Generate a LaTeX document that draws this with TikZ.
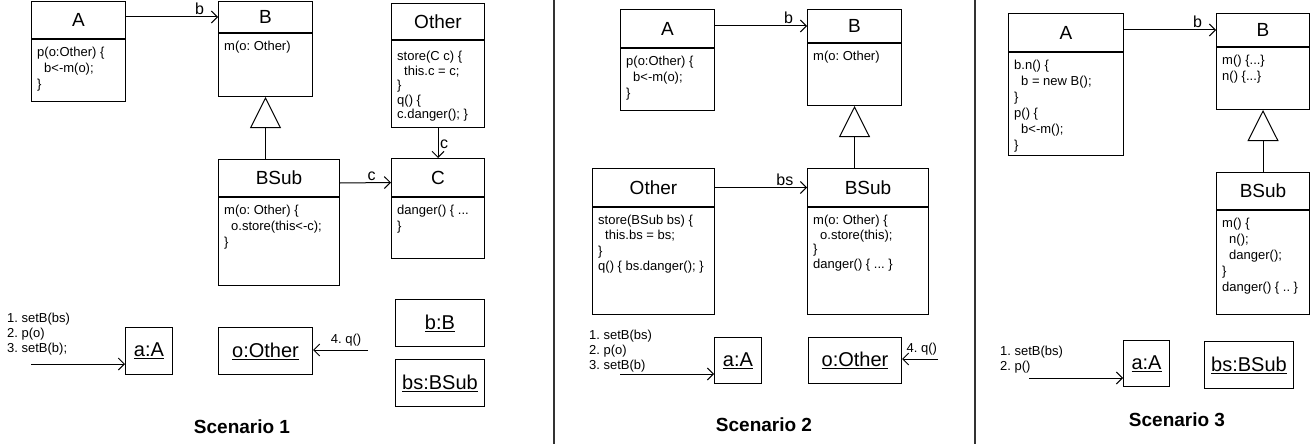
\documentclass[tikz,border=0pt]{standalone}
\usepackage{fontspec}
\setmainfont{Liberation Sans}
\usetikzlibrary{arrows.meta,positioning}
\newcommand\ind{\hspace*{7pt}}
\frenchspacing

\begin{document}
\begin{tikzpicture}[x=1pt,y=-1pt,
  cls/.style={draw, line width=1pt, anchor=north west, inner sep=0pt, font=\fontsize{19}{22}\selectfont},
  mbody/.style={draw, line width=1pt, anchor=north west, inner sep=0pt},
  mcode/.style={anchor=north west, align=left, inner xsep=6pt, inner ysep=8pt, font=\fontsize{13}{16}\selectfont},
  obj/.style={draw, line width=1pt, anchor=north west, inner sep=0pt, font=\fontsize{20}{24}\selectfont},
  assoc/.style={line width=1pt, -{Straight Barb[length=6pt,width=12pt]}},
  gen/.style={line width=1pt, -{Triangle[open,length=31pt,width=31pt]}},
  lbl/.style={font=\fontsize{16}{19}\selectfont, inner sep=1.5pt},
  calls/.style={anchor=north west, align=left, inner sep=0pt, font=\fontsize{13}{15}\selectfont},
  scen/.style={font=\fontsize{19}{22}\selectfont\bfseries}]
  \useasboundingbox (0,0) rectangle (1315,444);
  % --- separators
  \draw[line width=1.2pt, black!80] (554,0) -- (554,444);
  \draw[line width=1.2pt, black!80] (975,0) -- (975,444);

  % --- scenario 1
  \node[cls, minimum width=94, minimum height=37] (a1) at (31,1) {A};
  \node[mbody, minimum width=94, minimum height=62] (a1b) at (a1.south west) {};
  \node[mcode] (a1c) at (a1b.north west) {p(o:Other) \{\\ \ind b<-m(o);\\ \}};
  \node[cls, minimum width=94, minimum height=31] (b1) at (218,1) {B};
  \node[mbody, minimum width=94, minimum height=63] (b1b) at (b1.south west) {};
  \node[mcode] (b1c) at (b1b.north west) {m(o: Other)};
  \node[cls, minimum width=93, minimum height=36] (o1) at (391,3) {Other};
  \node[mbody, minimum width=93, minimum height=87] (o1b) at (o1.south west) {};
  \node[mcode, inner ysep=11pt, font=\fontsize{13}{14.5}\selectfont] (o1c) at (o1b.north west) {store(C c) \{\\ \ind this.c = c;\\ \}\\ q() \{\\ c.danger(); \}};
  \node[cls, minimum width=121, minimum height=37] (bs1) at (218,159) {BSub};
  \node[mbody, minimum width=121, minimum height=88] (bs1b) at (bs1.south west) {};
  \node[mcode] (bs1c) at (bs1b.north west) {m(o: Other) \{\\ \ind o.store(this<-c);\\ \}};
  \node[cls, minimum width=93, minimum height=38] (c1) at (391,158) {C};
  \node[mbody, minimum width=93, minimum height=61] (c1b) at (c1.south west) {};
  \node[mcode] (c1c) at (c1b.north west) {danger() \{ ...\\ \}};
  \draw[assoc] (a1.east |- b1.west) -- node[lbl, above, pos=0.8] (lb1) {b} (b1.west);
  \draw[gen] (bs1.north -| b1b.south) -- (b1b.south);
  \draw[assoc] (o1b.south) -- node[lbl, right, pos=0.55] (lc1) {c} (c1.north);
  \draw[assoc] ([yshift=-5pt]bs1.east) -- node[lbl, above, pos=0.62] (lc2) {c} ([yshift=-5pt]c1.west);
  % objects
  \node[obj, minimum width=47, minimum height=47] (oa1) at (125,327) {\underline{a:A}};
  \node[obj, minimum width=94, minimum height=47] (oo1) at (218,327) {\underline{o:Other}};
  \node[obj, minimum width=89, minimum height=47] (ob1) at (395,299) {\underline{b:B}};
  \node[obj, minimum width=89, minimum height=47] (obs1) at (395,359) {\underline{bs:BSub}};
  \node[calls] (k1) at (7,313) {1. setB(bs)\\ 2. p(o)\\ 3. setB(b);};
  \coordinate (in1) at (31,364);
  \coordinate (q1) at (368,350);
  \draw[assoc] (in1) -- (in1 -| oa1.west);
  \draw[assoc] (q1) -- node[lbl, above, pos=0.4, inner sep=3pt, font=\fontsize{13}{15}\selectfont] (lq1) {4. q()} (q1 -| oo1.east);
  \node[scen] (t1) at (242,427) {Scenario 1};

  % --- scenario 2
  \node[cls, minimum width=94, minimum height=38] (a2) at (620,9) {A};
  \node[mbody, minimum width=94, minimum height=62] (a2b) at (a2.south west) {};
  \node[mcode] (a2c) at (a2b.north west) {p(o:Other) \{\\ \ind b<-m(o);\\ \}};
  \node[cls, minimum width=94, minimum height=33] (b2) at (807,9) {B};
  \node[mbody, minimum width=94, minimum height=62] (b2b) at (b2.south west) {};
  \node[mcode] (b2c) at (b2b.north west) {m(o: Other)};
  \node[cls, minimum width=122, minimum height=38] (o2) at (592,168) {Other};
  \node[mbody, minimum width=122, minimum height=107] (o2b) at (o2.south west) {};
  \node[mcode, font=\fontsize{13}{15.3}\selectfont] (o2c) at (o2b.north west) {store(BSub bs) \{\\ \ind this.bs = bs;\\ \}\\ q() \{ bs.danger(); \}};
  \node[cls, minimum width=121, minimum height=38] (bs2) at (807,168) {BSub};
  \node[mbody, minimum width=121, minimum height=107] (bs2b) at (bs2.south west) {};
  \node[mcode, font=\fontsize{13}{14.5}\selectfont] (bs2c) at (bs2b.north west) {m(o: Other) \{\\ \ind o.store(this);\\ \}\\ danger() \{ ... \}};
  \draw[assoc] (a2.east |- b2.west) -- node[lbl, above, pos=0.8] (lb2) {b} (b2.west);
  \draw[gen] (bs2.north -| b2b.south) -- (b2b.south);
  \draw[assoc] (o2.east) -- node[lbl, above, pos=0.76] (lbs2) {bs} (bs2.west);
  % objects
  \node[obj, minimum width=47, minimum height=46] (oa2) at (714,337) {\underline{a:A}};
  \node[obj, minimum width=93, minimum height=46] (oo2) at (808,337) {\underline{o:Other}};
  \node[calls] (k2) at (589,330) {1. setB(bs)\\ 2. p(o)\\ 3. setB(b)};
  \coordinate (in2) at (620,374);
  \coordinate (q2) at (938,359);
  \draw[assoc] (in2) -- (in2 -| oa2.west);
  \draw[assoc] (q2) -- node[lbl, above, pos=0.45, inner sep=3pt, font=\fontsize{13}{15}\selectfont] (lq2) {4. q()} (q2 -| oo2.east);
  \node[scen] (t2) at (764,425) {Scenario 2};

  % --- scenario 3
  \node[cls, minimum width=115, minimum height=38] (a3) at (1008,13) {A};
  \node[mbody, minimum width=115, minimum height=103] (a3b) at (a3.south west) {};
  \node[mcode] (a3c) at (a3b.north west) {b.n() \{\\ \ind b = new B();\\ \}\\ p() \{\\ \ind b<-m();\\ \}};
  \node[cls, minimum width=93, minimum height=33] (b3) at (1216,13) {B};
  \node[mbody, minimum width=93, minimum height=62] (b3b) at (b3.south west) {};
  \node[mcode] (b3c) at (b3b.north west) {m() \{...\}\\ n() \{...\}};
  \node[cls, minimum width=93, minimum height=37] (bs3) at (1216,172) {BSub};
  \node[mbody, minimum width=93, minimum height=104] (bs3b) at (bs3.south west) {};
  \node[mcode] (bs3c) at (bs3b.north west) {m() \{\\ \ind n();\\ \ind danger();\\ \}\\ danger() \{ .. \}};
  \draw[assoc] (a3.east |- b3.west) -- node[lbl, above, pos=0.8] (lb3) {b} (b3.west);
  \draw[gen] (bs3.north -| b3b.south) -- (b3b.south);
  % objects
  \node[obj, minimum width=46, minimum height=46] (oa3) at (1123,340) {\underline{a:A}};
  \node[obj, minimum width=89, minimum height=47] (obs3) at (1204,341) {\underline{bs:BSub}};
  \node[calls] (k3) at (1000,346) {1. setB(bs)\\ 2. p()};
  \coordinate (in3) at (1029,378);
  \draw[assoc] (in3) -- (in3 -| oa3.west);
  \node[scen] (t3) at (1177,420) {Scenario 3};
\end{tikzpicture}
\end{document}
